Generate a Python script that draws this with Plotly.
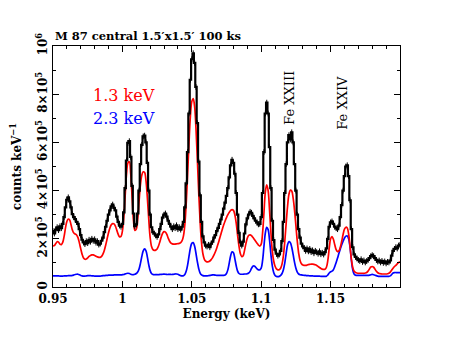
import plotly.graph_objects as go

# energy bins (keV), 0.001 keV wide, 0.950 ... 1.200
energy = [round(0.95 + 0.001 * i, 3) for i in range(251)]

# observed spectrum, in units of 10^3 counts keV^-1
observed_k = [
    232, 222, 238, 248, 236, 252, 244, 262, 290, 330,
    362, 372, 355, 330, 302, 290, 282, 270, 262, 240,
    215, 196, 185, 178, 190, 182, 196, 188, 200, 192,
    198, 184, 190, 176, 180, 192, 205, 228, 250, 275,
    300, 318, 335, 342, 328, 318, 292, 270, 255, 250,
    262, 310, 410, 525, 598, 605, 540, 420, 305, 252,
    260, 305, 400, 510, 590, 625, 628, 600, 515, 400,
    300, 248, 228, 222, 214, 208, 218, 240, 262, 288,
    300, 305, 292, 275, 262, 250, 240, 252, 244, 256,
    240, 248, 238, 250, 270, 330, 430, 560, 720, 860,
    945, 970, 930, 830, 680, 520, 380, 270, 210, 185,
    172, 168, 175, 165, 180, 188, 205, 215, 232, 245,
    262, 280, 300, 325, 350, 378, 410, 455, 505, 528,
    515, 470, 390, 300, 225, 185, 172, 188, 222, 260,
    285, 300, 312, 308, 295, 285, 275, 268, 260, 262,
    290, 390, 560, 720, 765, 720, 580, 410, 275, 195,
    155, 138, 130, 135, 150, 190, 270, 390, 510, 600,
    630, 612, 642, 600, 510, 400, 300, 240, 205, 180,
    168, 162, 150, 160, 148, 158, 145, 152, 140, 150,
    144, 138, 148, 136, 142, 135, 145, 160, 200, 250,
    268, 272, 262, 250, 244, 240, 255, 290, 340, 400,
    460, 500, 505, 460, 360, 240, 165, 135, 125, 118,
    112, 108, 115, 104, 110, 102, 108, 112, 120, 128,
    132, 128, 120, 112, 106, 110, 102, 108, 100, 106,
    98, 104, 102, 110, 130, 150, 158, 165, 160, 172,
    175,
]

# model, kT = 1.3 keV (10^3 counts keV^-1)
model_13_k = [
    170, 172, 180, 188, 186, 178, 176, 185, 210, 245,
    272, 282, 278, 258, 236, 224, 220, 216, 205, 183,
    158, 135, 120, 115, 116, 121, 127, 131, 133, 133,
    131, 128, 125, 123, 123, 127, 137, 153, 175, 200,
    225, 245, 258, 263, 262, 252, 235, 218, 208, 210,
    232, 290, 380, 470, 515, 520, 470, 370, 275, 235,
    240, 280, 355, 425, 465, 478, 475, 440, 370, 280,
    205, 168, 155, 152, 153, 158, 170, 188, 208, 223,
    230, 228, 218, 203, 190, 182, 179, 178, 178, 179,
    180, 181, 184, 192, 212, 260, 350, 470, 600, 710,
    770, 782, 750, 660, 530, 390, 270, 185, 138, 116,
    107, 104, 105, 108, 114, 122, 133, 146, 162, 180,
    200, 220, 240, 258, 274, 288, 300, 310, 318, 321,
    318, 300, 265, 215, 170, 138, 126, 130, 152, 180,
    203, 214, 216, 213, 206, 198, 190, 182, 174, 170,
    178, 225, 310, 395, 424, 400, 320, 225, 150, 108,
    86, 75, 71, 72, 78, 95, 130, 190, 265, 335,
    385, 402, 398, 370, 320, 255, 190, 140, 110, 96,
    91, 90, 90, 91, 93, 94, 95, 95, 94, 92,
    89, 85, 81, 77, 74, 73, 74, 82, 110, 160,
    200, 209, 198, 175, 155, 147, 150, 165, 190, 218,
    240, 248, 245, 220, 170, 115, 80, 65, 60, 58,
    57, 57, 57, 57, 57, 58, 60, 66, 75, 83,
    85, 82, 74, 65, 59, 56, 55, 54, 54, 54,
    54, 55, 57, 62, 70, 78, 85, 90, 96, 101,
    105,
]

# model, kT = 2.3 keV (10^3 counts keV^-1)
model_23_k = [
    46, 46, 46, 46, 46, 45, 45, 45, 46, 46,
    46, 47, 47, 47, 48, 50, 52, 53, 53, 51,
    48, 46, 45, 45, 46, 47, 47, 47, 46, 46,
    45, 45, 45, 45, 45, 46, 47, 47, 48, 48,
    49, 49, 49, 49, 50, 50, 50, 50, 50, 50,
    51, 52, 54, 56, 57, 56, 53, 51, 51, 53,
    56, 62, 75, 98, 127, 150, 158, 150, 124, 92,
    68, 56, 52, 51, 51, 51, 51, 52, 52, 53,
    53, 53, 52, 52, 52, 52, 52, 53, 54, 54,
    53, 50, 47, 46, 47, 52, 66, 92, 128, 162,
    181, 184, 170, 140, 105, 76, 58, 50, 47, 46,
    46, 46, 47, 48, 49, 50, 50, 49, 48, 48,
    48, 48, 48, 48, 50, 56, 72, 100, 130, 146,
    142, 118, 88, 66, 56, 53, 53, 53, 54, 54,
    55, 58, 65, 77, 86, 87, 82, 75, 71, 71,
    78, 110, 170, 225, 248, 238, 195, 135, 88, 60,
    48, 44, 43, 44, 48, 56, 72, 100, 140, 175,
    188, 184, 165, 135, 103, 78, 62, 54, 51, 50,
    49, 48, 48, 47, 47, 46, 46, 46, 45, 45,
    45, 45, 45, 44, 44, 44, 44, 45, 50, 58,
    63, 66, 72, 85, 102, 120, 140, 158, 175, 190,
    203, 211, 212, 200, 165, 110, 70, 53, 49, 48,
    48, 48, 48, 48, 48, 48, 48, 48, 49, 51,
    52, 51, 49, 47, 45, 44, 44, 44, 44, 44,
    44, 44, 44, 46, 52, 58, 60, 60, 60, 60,
    60,
]

y_ticks = [0, 2e5, 4e5, 6e5, 8e5, 1e6]
y_tick_text = ["0", "2×10<sup>5</sup>", "4×10<sup>5</sup>", "6×10<sup>5</sup>",
               "8×10<sup>5</sup>", "10<sup>6</sup>"]
x_ticks = [0.95, 1.0, 1.05, 1.1, 1.15]
x_tick_text = ["0.95", "1", "1.05", "1.1", "1.15"]

serif = "DejaVu Serif"

fig = go.Figure()
fig.add_trace(go.Scatter(x=energy, y=[v * 1e3 for v in model_23_k], mode="lines",
                         line=dict(color="#0000ff", width=1.7, shape="spline")))
fig.add_trace(go.Scatter(x=energy, y=[v * 1e3 for v in model_13_k], mode="lines",
                         line=dict(color="#ff0000", width=1.7, shape="spline")))
fig.add_trace(go.Scatter(x=energy, y=[v * 1e3 for v in observed_k], mode="lines",
                         line=dict(color="black", width=2.2, shape="hvh"),
                         error_y=dict(type="constant", value=12e3, width=0,
                                      thickness=1, color="black")))

axis_common = dict(showgrid=False, zeroline=False, showline=True, linecolor="black",
                   linewidth=1.2, mirror="allticks", ticks="inside", ticklen=6,
                   tickcolor="black", tickwidth=1, automargin=False,
                   tickfont=dict(family=serif, size=12, color="black", weight="bold"))

fig.update_xaxes(range=[0.95, 1.2], tickvals=x_ticks, ticktext=x_tick_text,
                 minor=dict(ticks="inside", dtick=0.01, ticklen=3, tickcolor="black"),
                 title=dict(text="Energy (keV)", standoff=5,
                            font=dict(family=serif, size=12, color="black", weight="bold")),
                 **axis_common)
fig.update_yaxes(range=[0, 1e6], tickvals=y_ticks, ticktext=y_tick_text, tickangle=-90,
                 minor=dict(ticks="inside", dtick=1e5, ticklen=3, tickcolor="black"),
                 title=dict(text="counts keV<sup>−1</sup>", standoff=10,
                            font=dict(family=serif, size=12, color="black", weight="bold")),
                 **axis_common)

fig.add_annotation(text="M 87 central 1.5′x1.5′ 100 ks", xref="paper", yref="paper",
                   x=0, y=1, xanchor="left", yanchor="bottom", yshift=1, showarrow=False,
                   font=dict(family=serif, size=11.5, color="black", weight="bold"))
fig.add_annotation(text="1.3 keV", x=1.0012, y=7.94e5, showarrow=False,
                   font=dict(family=serif, size=16, color="#ff0000"))
fig.add_annotation(text="2.3 keV", x=1.0012, y=6.98e5, showarrow=False,
                   font=dict(family=serif, size=16, color="#0000ff"))
fig.add_annotation(text="Fe XXIII", x=1.1208, y=7.85e5, textangle=-90, showarrow=False,
                   font=dict(family=serif, size=13, color="black"))
fig.add_annotation(text="Fe XXIV", x=1.159, y=7.65e5, textangle=-90, showarrow=False,
                   font=dict(family=serif, size=13, color="black"))

# the page body adds an 8 px offset, so the margins are shifted to compensate
fig.update_layout(width=454, height=351, margin=dict(l=45, r=62, t=38, b=72),
                  plot_bgcolor="white", paper_bgcolor="white", showlegend=False)

fig.write_html("out.html")
